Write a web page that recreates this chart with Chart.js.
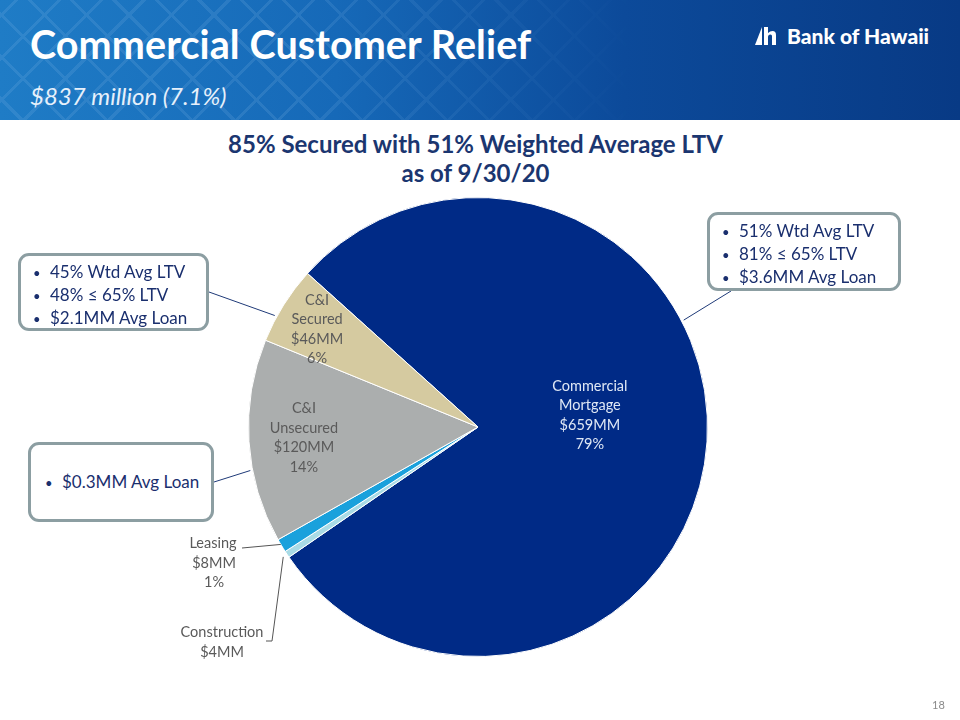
<!DOCTYPE html>
<html>
<head>
<meta charset="utf-8">
<script src="https://cdn.jsdelivr.net/npm/chart.js@4"></script>
<style>
  body { margin: 0; width: 960px; height: 720px; position: relative; overflow: hidden; background: #fff; font-family: Lato, "Open Sans", sans-serif; }
  #header { position: absolute; left: 0; top: 0; width: 960px; height: 120px;
    background: linear-gradient(90deg, #1f7cc6 0%, #1669b8 35%, #0c4a9a 65%, #083a85 100%); }
  #header .pat { position: absolute; left: 0; top: 0; width: 640px; height: 120px; opacity: .14;
    background-image: repeating-linear-gradient(45deg, transparent 0 14px, #9cc8f0 14px 17px, transparent 17px 30px),
                      repeating-linear-gradient(-45deg, transparent 0 14px, #9cc8f0 14px 17px, transparent 17px 30px);
    -webkit-mask-image: linear-gradient(90deg, #000 45%, transparent 100%); }
  #title { position: absolute; left: 30px; top: 20px; color: #fff; font-weight: 700; font-size: 39.5px; letter-spacing: 0.1px; }
  #subtitle { position: absolute; left: 30px; top: 81px; color: #e6f0fb; font-style: italic; font-size: 24px; }
  #logo { position: absolute; left: 755px; top: 23px; color: #fff; font-weight: 900; font-size: 21px; display: flex; align-items: center; gap: 10px; }
  #chartTitle { position: absolute; left: 0; width: 951px; top: 129px; text-align: center; color: #1b3670; font-weight: 700; font-size: 24px; line-height: 29px; }
  canvas { position: absolute; left: 0; top: 0; }
  .box { position: absolute; border: 3px solid #8c9ea2; border-radius: 11px; background: #fff; box-sizing: border-box;
    color: #1a2f6e; font-size: 17px; line-height: 22px; padding: 5px 0 0 12px; }
  .box div::before { content: "\2022"; display: inline-block; width: 17px; font-size: 13px; }
  #page { position: absolute; left: 932px; top: 698px; font-size: 11px; color: #8a8a8a; }
</style>
</head>
<body>
<div id="header"><div class="pat"></div></div>
<div id="title">Commercial Customer Relief</div>
<div id="subtitle">$837 million (7.1%)</div>
<div id="logo">
  <svg width="22" height="20" viewBox="0 0 22 20"><polygon points="0,19 7,1 7,19" fill="#fff"/><path d="M9 1 h4 v6 q2-2 4.5-2 q3.5 0 3.5 4 v10 h-4 v-9 q0-1.5-1.5-1.5 q-2.5 0-2.5 2.5 v8 h-4 z" fill="#fff"/></svg>
  <span>Bank of Hawaii</span>
</div>
<div id="chartTitle">85% Secured with 51% Weighted Average LTV<br>as of 9/30/20</div>
<canvas id="myChart" width="960" height="720"></canvas>
<div class="box" style="left:18px;top:253px;width:191px;height:78px;">
  <div>45% Wtd Avg LTV</div><div>48% ≤ 65% LTV</div><div>$2.1MM Avg Loan</div>
</div>
<div class="box" style="left:707px;top:212px;width:194px;height:79px;padding-left:12px;">
  <div>51% Wtd Avg LTV</div><div>81% ≤ 65% LTV</div><div>$3.6MM Avg Loan</div>
</div>
<div class="box" style="left:28px;top:442px;width:186px;height:80px;padding-top:26px;padding-left:14px;">
  <div>$0.3MM Avg Loan</div>
</div>
<div id="page">18</div>

<script>
var categories = ['Commercial Mortgage', 'Construction', 'Leasing', 'C&I Unsecured', 'C&I Secured'];
var amountsMM = [659, 4, 8, 120, 46];
var amountLabels = ['$659MM', '$4MM', '$8MM', '$120MM', '$46MM'];
var pctLabels = ['79%', '', '1%', '14%', '6%'];
var colors = ['#002a86', '#a9dbe6', '#1aa1dc', '#abaeae', '#d5caa0'];

// label lines inside the slices
var insideLines = {
    0: ['Commercial', 'Mortgage', amountLabels[0], pctLabels[0]],
    3: ['C&I', 'Unsecured', amountLabels[3], pctLabels[3]],
    4: ['C&I', 'Secured', amountLabels[4], pctLabels[4]]
};
var insidePos = { 0: [0.49, -0.034], 3: [0.76, 0], 4: [0.82, -0.045] };  // radius factor, extra angle
var insideColor = { 0: '#dfe8f5', 3: '#5a5a5a', 4: '#5a5a5a' };

function arcPoint(arc, frac, rf) {
    var p = arc.getProps(['x', 'y', 'startAngle', 'endAngle', 'outerRadius']);
    var a = p.startAngle + (p.endAngle - p.startAngle) * frac;
    return [p.x + Math.cos(a) * p.outerRadius * rf, p.y + Math.sin(a) * p.outerRadius * rf];
}

var labelPlugin = {
    id: 'sliceLabels',
    afterDatasetsDraw: function (chart) {
        var ctx = chart.ctx;
        var arcs = chart.getDatasetMeta(0).data;
        ctx.save();
        ctx.font = '14.5px Lato, sans-serif';
        ctx.textAlign = 'center';
        ctx.textBaseline = 'middle';
        Object.keys(insideLines).forEach(function (k) {
            var i = +k;
            var pt = arcPoint(arcs[i], 0.5 + insidePos[i][1], insidePos[i][0]);
            var lines = insideLines[i];
            ctx.fillStyle = insideColor[i];
            lines.forEach(function (t, j) {
                ctx.fillText(t, pt[0], pt[1] + (j - (lines.length - 1) / 2) * 19.5);
            });
        });

        // outside labels for the thin slices
        ctx.fillStyle = '#5a5a5a';
        ctx.fillText(categories[2], 213, 543);
        ctx.fillText(amountLabels[2], 214, 563);
        ctx.fillText(pctLabels[2], 214, 582);
        ctx.fillText(categories[1], 222, 632);
        ctx.fillText(amountLabels[1], 222, 652);

        ctx.lineWidth = 1;
        ctx.strokeStyle = '#555';
        var pl = arcPoint(arcs[2], 0.6, 1.0);
        ctx.beginPath(); ctx.moveTo(242, 548); ctx.lineTo(pl[0], pl[1]); ctx.stroke();
        var pc = arcPoint(arcs[1], 0.5, 1.02);
        ctx.beginPath(); ctx.moveTo(266, 641); ctx.lineTo(272, 641); ctx.lineTo(pc[0], pc[1]); ctx.stroke();

        // callout leaders
        ctx.strokeStyle = '#1f3a78';
        var leaders = [
            { from: [209, 292], i: 4, frac: 0.33 },
            { from: [731, 291], i: 0, frac: 0.39 },
            { from: [214, 482], i: 3, frac: 0.36 }
        ];
        leaders.forEach(function (l) {
            var e = arcPoint(arcs[l.i], l.frac, 1.01);
            ctx.beginPath(); ctx.moveTo(l.from[0], l.from[1]); ctx.lineTo(e[0], e[1]); ctx.stroke();
        });
        ctx.restore();
    }
};

new Chart(document.getElementById('myChart'), {
    type: 'pie',
    data: {
        labels: categories,
        datasets: [{
            data: amountsMM,
            backgroundColor: colors,
            borderColor: '#ffffff',
            borderWidth: 1
        }]
    },
    options: {
        responsive: false,
        animation: false,
        rotation: 312,
        layout: { padding: { left: 248, right: 252, top: 197, bottom: 63 } },
        plugins: {
            legend: { display: false },
            tooltip: { enabled: false },
            title: { display: false }
        }
    },
    plugins: [labelPlugin]
});
</script>
</body>
</html>
